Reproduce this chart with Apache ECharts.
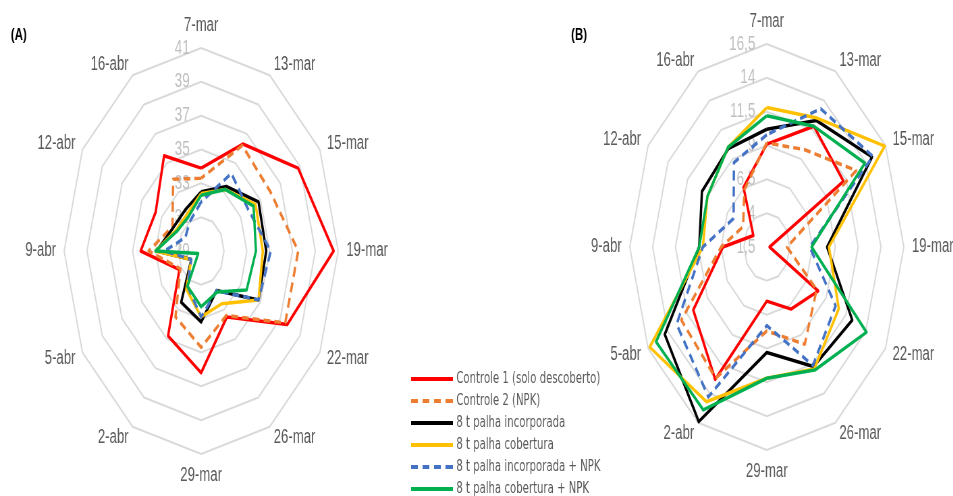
<!DOCTYPE html>
<html>
<head>
<meta charset="utf-8">
<script src="https://cdn.jsdelivr.net/npm/echarts@6/dist/echarts.min.js"></script>
<style>
  html, body { margin: 0; padding: 0; overflow: hidden; background: #fff; width: 953px; height: 496px; }
  /* The figure is laid out wide and compressed horizontally, which turns the radar rings into ellipses. */
  #chart { position: absolute; left: 0; top: 0; width: 1412px; height: 496px; transform: scaleX(0.675); transform-origin: 0 0; }
</style>
</head>
<body>
<div id="chart"></div>
<script>
// Sampling dates, listed clockwise from the top spoke.
const dates = ['7-mar', '13-mar', '15-mar', '19-mar', '22-mar', '26-mar', '29-mar', '2-abr', '5-abr', '9-abr', '12-abr', '16-abr'];

const seriesNames = [
  'Controle 1 (solo descoberto)',
  'Controle 2 (NPK)',
  '8 t palha incorporada',
  '8 t palha cobertura',
  '8 t palha incorporada + NPK',
  '8 t palha cobertura + NPK'
];

// Ring values of each panel.
const ticksA = [29, 31, 33, 35, 37, 39, 41];
const ticksB = [1.5, 4, 6.5, 9, 11.5, 14, 16.5];

// Panel (A)
const aControle1   = [33.9, 36.3, 38.8, 40.6, 37.7, 33.5, 36.2, 34.8, 31.2, 34.3, 33.6, 35.5];
const aControle2   = [33.3, 36.2, 36.0, 37.5, 37.5, 33.4, 34.7, 33.5, 31.1, 33.6, 31.9, 33.9];
const aIncorporada = [32.5, 33.4, 34.8, 34.7, 34.8, 31.7, 33.2, 32.5, 30.0, 32.9, 31.8, 31.8];
const aCobertura   = [32.4, 33.2, 34.5, 34.4, 34.8, 32.6, 32.9, 31.6, 30.0, 33.0, 31.5, 31.5];
const aIncorpNPK   = [31.9, 34.3, 33.8, 35.1, 34.8, 31.7, 32.9, 31.4, 30.0, 32.2, 30.6, 31.0];
const aCobertNPK   = [32.3, 33.2, 34.3, 33.8, 33.6, 31.8, 32.3, 31.4, 29.3, 33.0, 31.4, 31.3];

// Panel (B)
const bControle1   = [9.1, 11.8, 11.2, 1.8, 8.0, 6.8, 5.5, 12.8, 10.8, 6.3, 3.2, 6.6];
const bControle2   = [9.2, 9.8, 12.8, 3.7, 7.8, 9.8, 7.7, 12.7, 12.3, 6.5, 4.5, 6.4];
const bIncorporada = [10.2, 12.3, 14.8, 8.1, 12.3, 11.7, 9.3, 16.4, 14.4, 8.9, 9.7, 9.9];
const bCobertura   = [11.8, 12.5, 16.4, 8.3, 10.6, 11.9, 11.2, 14.7, 16.3, 8.5, 9.0, 10.0];
const bIncorpNPK   = [9.8, 13.3, 14.9, 6.2, 10.2, 11.6, 7.3, 14.3, 12.9, 8.5, 5.7, 8.7];
const bCobertNPK   = [11.2, 11.8, 13.9, 6.4, 14.1, 12.0, 11.2, 15.4, 15.5, 8.9, 9.0, 10.0];

const colors = ['#ff0000', '#ed7d31', '#000000', '#ffc000', '#4472c4', '#00b050'];
const dashed = [false, true, false, false, true, false];

const panelA = [aControle1, aControle2, aIncorporada, aCobertura, aIncorpNPK, aCobertNPK];
const panelB = [bControle1, bControle2, bIncorporada, bCobertura, bIncorpNPK, bCobertNPK];

// ECharts places indicators counter-clockwise; feeding them in this order
// keeps the dates running clockwise from the top.
const order = [0, 11, 10, 9, 8, 7, 6, 5, 4, 3, 2, 1];

const FONT = '"Liberation Sans", Arial, sans-serif';

function indicators(ticks, decimalComma) {
  return order.map(function (k, i) {
    const ind = { name: dates[k], min: ticks[0], max: ticks[ticks.length - 1] };
    if (i === 0) {
      ind.axisLabel = {
        show: true,
        color: '#bfbfbf',
        fontSize: 20,
        fontFamily: FONT,
        margin: 17,
        showMinLabel: true,
        formatter: function (v) {
          const s = String(Math.round(v * 10) / 10);
          return decimalComma ? s.replace('.', ',') : s;
        }
      };
    }
    return ind;
  });
}

function radarBox(center, ticks, decimalComma) {
  return {
    center: center,
    radius: 203,
    startAngle: 90,
    shape: 'polygon',
    splitNumber: ticks.length - 1,
    indicator: indicators(ticks, decimalComma),
    nameGap: 12,
    axisName: { color: '#595959', fontSize: 19.5, fontFamily: FONT },
    axisLine: { show: false },
    axisTick: { show: false },
    axisLabel: { show: false },
    splitArea: { show: false },
    splitLine: { lineStyle: { color: '#d9d9d9', width: 2 } }
  };
}

function radarSeries(radarIndex, panel) {
  return {
    type: 'radar',
    radarIndex: radarIndex,
    symbol: 'none',
    silent: true,
    data: panel.map(function (vals, i) {
      return {
        name: seriesNames[i],
        value: order.map(function (k) { return vals[k]; }),
        itemStyle: { color: colors[i] },
        lineStyle: { color: colors[i], width: 3.5, type: dashed[i] ? [10, 6] : 'solid' }
      };
    })
  };
}

const solidIcon = 'path://M0,0h62v4h-62z';
const dashIcon = 'path://M0,0h10v4h-10zM17,0h10v4h-10zM34,0h10v4h-10zM51,0h11v4h-11z';

const chart = echarts.init(document.getElementById('chart'), null, { renderer: 'canvas' });
chart.setOption({
  animation: false,
  color: colors,
  title: [
    { text: '(A)', left: 11, top: 22, textStyle: { fontSize: 17, fontWeight: 'bold', color: '#000', fontFamily: FONT } },
    { text: '(B)', left: 841, top: 22, textStyle: { fontSize: 17, fontWeight: 'bold', color: '#000', fontFamily: FONT } }
  ],
  legend: {
    orient: 'vertical',
    left: 604,
    top: 365,
    height: 220,
    itemWidth: 62,
    itemHeight: 4,
    itemGap: 4,
    selectedMode: false,
    textStyle: { color: '#595959', fontSize: 15, lineHeight: 18, fontFamily: '"DejaVu Sans", sans-serif' },
    data: seriesNames.map(function (n, i) {
      return { name: n, icon: dashed[i] ? dashIcon : solidIcon };
    })
  },
  radar: [
    radarBox([298, 251], ticksA, false),
    radarBox([1136, 247], ticksB, true)
  ],
  series: [
    radarSeries(0, panelA),
    radarSeries(1, panelB)
  ]
});
</script>
</body>
</html>
